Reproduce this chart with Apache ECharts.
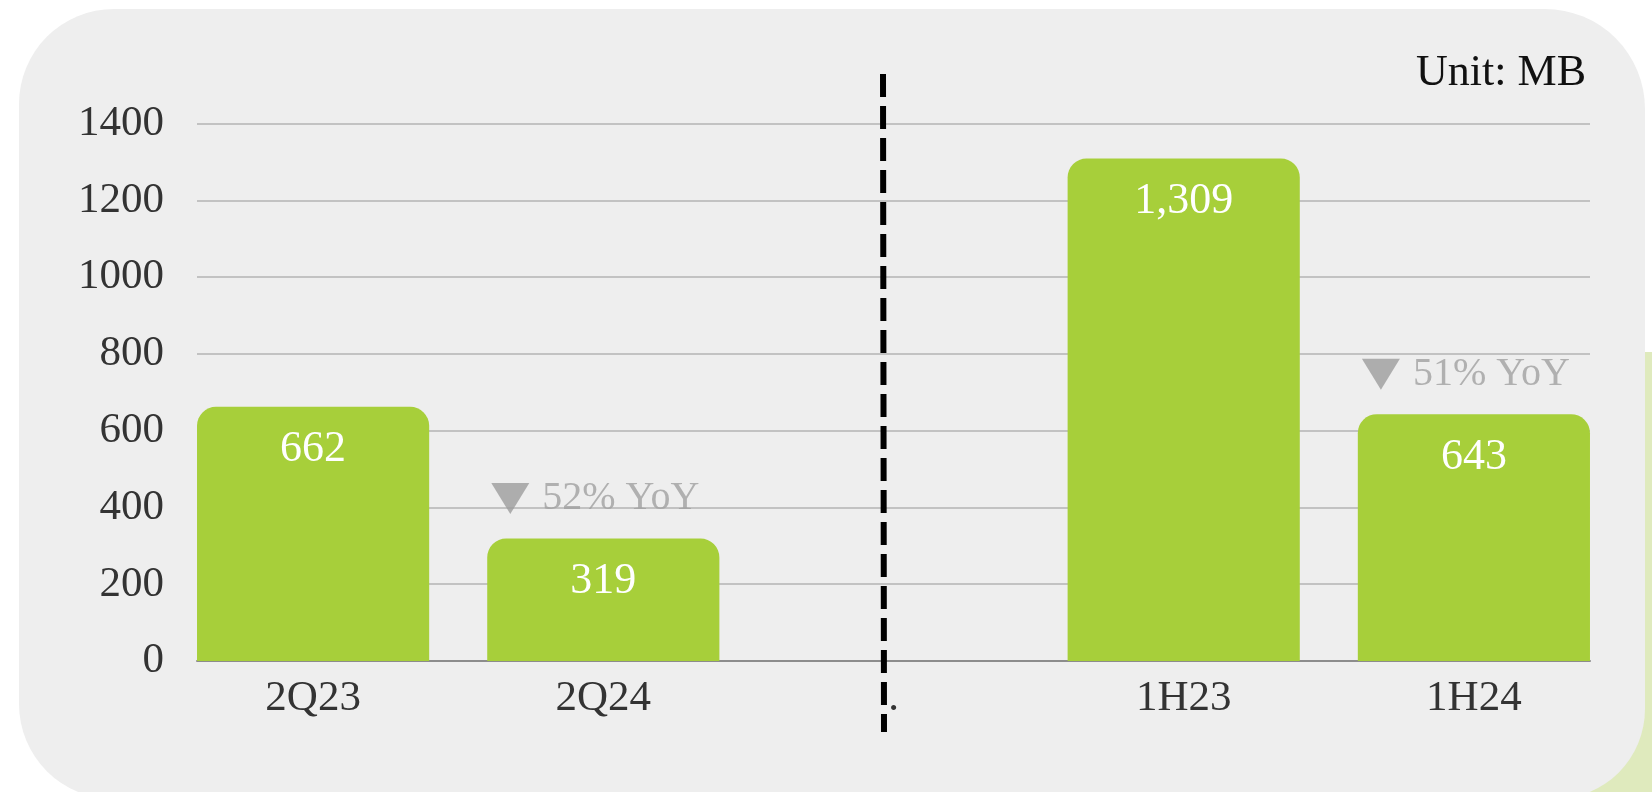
<!DOCTYPE html>
<html>
<head>
<meta charset="utf-8">
<script src="https://cdn.jsdelivr.net/npm/echarts@6/dist/echarts.min.js"></script>
<style>
html,body{margin:0;padding:0;background:#ffffff;}
#c{width:1652px;height:792px;}
</style>
</head>
<body>
<div id="c"></div>
<script>
// ---- data ----
const categories = ['2Q23', '2Q24', '.', '1H23', '1H24'];
const values = [662, 319, null, 1309, 643];
const valueLabels = ['662', '319', '', '1,309', '643'];
const yoyLabels = [null, '52% YoY', null, null, '51% YoY'];
const yMin = 0;
const yMax = 1400;
const yInterval = 200;
const unitText = 'Unit: MB';

// ---- styles ----
const FONT = '"Liberation Serif", "DejaVu Serif", serif';
const BAR_COLOR = '#a7cf3a';
const GREY = '#a0a0a0';

const yoyData = values.map((v, i) => (yoyLabels[i] ? v : null));

const chart = echarts.init(document.getElementById('c'), null, {renderer: 'canvas'});
chart.setOption({
  backgroundColor: '#ffffff',
  animation: false,
  title: {
    text: unitText,
    right: 61,
    top: 46,
    textStyle: {fontFamily: FONT, fontSize: 44, fontWeight: 'normal', color: '#111111'}
  },
  graphic: [
    {type: 'rect', z: -20, shape: {x: 1470, y: 352, width: 400, height: 600, r: 70}, style: {fill: '#dfeabd'}},
    {type: 'rect', z: -10, shape: {x: 19, y: 9, width: 1626, height: 790, r: [95, 100, 90, 95]}, style: {fill: '#eeeeee'}},
    {type: 'line', z: 100, shape: {x1: 883, y1: 74, x2: 884, y2: 732}, style: {stroke: '#000000', lineWidth: 6, lineDash: [23, 9]}}
  ],
  grid: [
    {left: 197, right: 62, top: 123.5, bottom: 131},
    {left: 168, right: 33, top: 123.5, bottom: 131}
  ],
  xAxis: [
    {
      gridIndex: 0, type: 'category', data: categories,
      axisLine: {show: true, lineStyle: {color: '#8c8c8c', width: 2}},
      axisTick: {show: false}, axisLabel: {show: false}, splitLine: {show: false}
    },
    {
      gridIndex: 1, type: 'category', data: categories,
      axisLine: {show: false}, axisTick: {show: false}, splitLine: {show: false},
      axisLabel: {fontFamily: FONT, fontSize: 43, color: '#333333', margin: 16}
    }
  ],
  yAxis: [
    {
      gridIndex: 0, type: 'value', min: yMin, max: yMax, interval: yInterval,
      axisLine: {show: false}, axisTick: {show: false},
      axisLabel: {fontFamily: FONT, fontSize: 43, color: '#333333', margin: 33, formatter: v => String(v)},
      splitLine: {show: true, lineStyle: {color: '#c2c2c2', width: 2}}
    },
    {
      gridIndex: 1, type: 'value', min: yMin, max: yMax, interval: yInterval, show: false,
      splitLine: {show: false}
    }
  ],
  series: [
    {
      type: 'bar', xAxisIndex: 1, yAxisIndex: 1,
      data: values,
      barCategoryGap: '20%',
      itemStyle: {color: BAR_COLOR, borderRadius: [19, 19, 0, 0]},
      label: {
        show: true, position: 'insideTop', distance: 21,
        formatter: p => valueLabels[p.dataIndex],
        fontFamily: FONT, fontSize: 44, color: '#ffffff'
      },
      z: 3
    },
    {
      type: 'scatter', xAxisIndex: 1, yAxisIndex: 1,
      data: yoyData,
      symbol: 'path://M0,0L38,0L19,31Z',
      symbolSize: [38, 31],
      symbolOffset: [-93, -40],
      itemStyle: {color: '#9c9c9c'},
      label: {
        show: true, position: 'right', distance: 13,
        formatter: p => yoyLabels[p.dataIndex] || '',
        fontFamily: FONT, fontSize: 40, color: GREY
      },
      z: 4
    }
  ]
});
</script>
</body>
</html>
